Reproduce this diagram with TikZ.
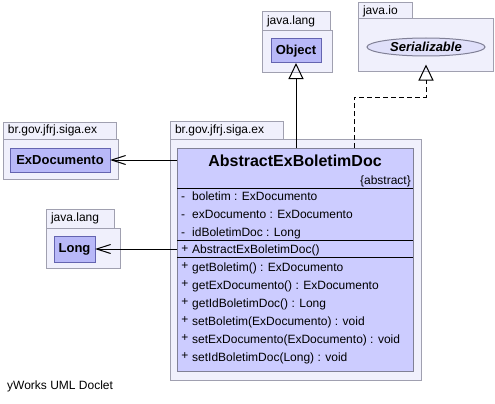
\documentclass[tikz,border=0pt]{standalone}
\usepackage{fontspec}
\setmainfont{Liberation Sans}
\usetikzlibrary{arrows.meta,shapes.geometric,calc}
\definecolor{pkgfill}{RGB}{240,240,252}
\definecolor{pkgline}{RGB}{160,160,176}
\definecolor{clsfill}{RGB}{204,204,255}
\definecolor{clsline}{RGB}{128,128,150}
\definecolor{reffill}{RGB}{184,184,248}
\definecolor{refline}{RGB}{100,100,176}
\definecolor{ellfill}{RGB}{224,224,250}
\begin{document}
\begin{tikzpicture}[x=1pt,y=-1pt,
  pkgbody/.style={draw=pkgline,fill=pkgfill,line width=1pt,anchor=north west,inner sep=0pt,outer sep=0pt},
  pkgtab/.style={draw=pkgline,fill=pkgfill,line width=1pt,anchor=north west,inner xsep=5pt,inner ysep=0pt,outer sep=0pt,align=left,font=\fontsize{12}{14}\selectfont},
  refcls/.style={draw=refline,fill=reffill,line width=1pt,anchor=north west,inner sep=0pt,outer sep=0pt,font=\fontsize{13}{15}\selectfont\bfseries},
  maincls/.style={draw=clsline,fill=clsfill,line width=1pt,anchor=north west,inner sep=0pt,outer sep=0pt},
  member/.style={anchor=base west,inner sep=0pt,font=\fontsize{12}{14}\selectfont},
  vis/.style={anchor=base,inner sep=0pt,font=\fontsize{12}{14}\selectfont},
  sepline/.style={draw=black,line width=1pt},
  gen/.style={draw=black,line width=1pt,-{Triangle[open,length=16pt,width=15pt]}},
  real/.style={draw=black,line width=1pt,dash pattern=on 5pt off 3pt,-{Triangle[open,length=16pt,width=15pt]}},
  dep/.style={draw=black,line width=1pt,-{Straight Barb[length=14pt,width=9pt]}}
]
\useasboundingbox[fill=white] (0,0) rectangle (495,404);

% package java.lang (Object)
\node[pkgtab,text width=58pt,minimum height=19pt] (pobjtab) at (262,12) {java.lang};
\node[pkgbody,minimum width=70pt,minimum height=41pt] (pobj) at (262,31) {};
\node[refcls,minimum width=50pt,minimum height=24pt] (obj) at (271,39) {Object};

% package java.io (Serializable)
\node[pkgtab,text width=44pt,minimum height=16pt] (piotab) at (358,3) {java.io};
\node[pkgbody,minimum width=135pt,minimum height=52pt] (pio) at (358,19) {};
\node[ellipse,draw=clsline,fill=ellfill,line width=1pt,minimum width=118pt,minimum height=18pt,inner sep=0pt,font=\fontsize{13}{15}\selectfont\bfseries\itshape] (ser) at (426,47) {Serializable};

% package br.gov.jfrj.siga.ex (ExDocumento)
\node[pkgtab,text width=103pt,minimum height=17pt] (pextab) at (3,122) {br.gov.jfrj.siga.ex};
\node[pkgbody,minimum width=115pt,minimum height=40pt] (pex) at (3,139) {};
\node[refcls,minimum width=100pt,minimum height=24pt] (exd) at (10,148) {ExDocumento};

% package java.lang (Long)
\node[pkgtab,text width=58pt,minimum height=19pt] (plongtab) at (46,209) {java.lang};
\node[pkgbody,minimum width=74pt,minimum height=40pt] (plong) at (46,228) {};
\node[refcls,minimum width=41pt,minimum height=26pt] (lng) at (54,236) {Long};

% main package
\node[pkgtab,text width=103pt,minimum height=18pt] (pmaintab) at (170,121) {br.gov.jfrj.siga.ex};
\node[pkgbody,minimum width=251pt,minimum height=241pt] (pmain) at (170,139) {};
\node[maincls,minimum width=236pt,minimum height=223pt] (main) at (177,148) {};

\node[inner sep=0pt,font=\fontsize{16}{18}\selectfont\bfseries] (mname) at (295,161) {AbstractExBoletimDoc};
\node[anchor=east,inner sep=0pt,font=\fontsize{12}{14}\selectfont] (mabs) at (411,181) {\{abstract\}};

\draw[sepline] (main.west |- 0,188) -- (main.east |- 0,188);
\draw[sepline] (main.west |- 0,240) -- (main.east |- 0,240);
\draw[sepline] (main.west |- 0,257) -- (main.east |- 0,257);

\node[vis] (v1) at (183,200.3) {-};
\node[member] (a1) at (192,200.3) {boletim : ExDocumento};
\node[vis] (v2) at (183,218.3) {-};
\node[member] (a2) at (192,218.3) {exDocumento : ExDocumento};
\node[vis] (v3) at (183,236.3) {-};
\node[member] (a3) at (192,236.3) {idBoletimDoc : Long};

\node[vis] (v4) at (185,252.3) {+};
\node[member] (c1) at (192,253.3) {AbstractExBoletimDoc()};

\node[vis] (v5) at (185,269.8) {+};
\node[member] (m1) at (192,271.3) {getBoletim() : ExDocumento};
\node[vis] (v6) at (185,287.8) {+};
\node[member] (m2) at (192,289.3) {getExDocumento() : ExDocumento};
\node[vis] (v7) at (185,305.8) {+};
\node[member] (m3) at (192,307.3) {getIdBoletimDoc() : Long};
\node[vis] (v8) at (185,323.8) {+};
\node[member] (m4) at (192,325.3) {setBoletim(ExDocumento) : void};
\node[vis] (v9) at (185,341.8) {+};
\node[member] (m5) at (192,343.3) {setExDocumento(ExDocumento) : void};
\node[vis] (v10) at (185,359.8) {+};
\node[member] (m6) at (192,361.3) {setIdBoletimDoc(Long) : void};

% connectors
\draw[gen] (obj.south |- main.north) -- (obj.south);
\coordinate (rstart) at (354,148);
\coordinate (rbend) at (354,97);
\draw[real] (rstart) -- (rbend) -| ($(ser.south)+(0,8)$);
\draw[dep] (main.west |- exd.east) -- (exd.east);
\draw[dep] (main.west |- lng.east) -- (lng.east);

% footer
\node[anchor=west,inner sep=0pt,font=\fontsize{12}{14}\selectfont] (footer) at (7,386) {yWorks UML Doclet};
\end{tikzpicture}
\end{document}
